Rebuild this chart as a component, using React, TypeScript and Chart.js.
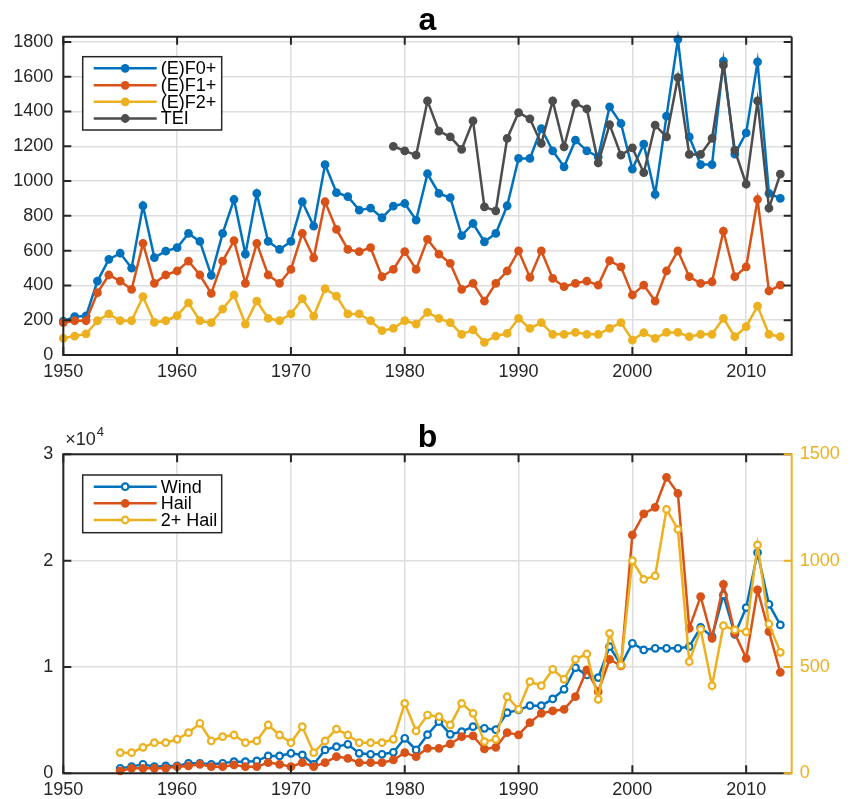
import React, { useEffect, useRef } from 'react';
import { Chart, registerables } from 'chart.js';

Chart.register(...registerables);

const FONT = '"Liberation Sans", Arial, Helvetica, sans-serif';
const BLUE = '#0072BD';
const ORANGE = '#D95319';
const YELLOW = '#EDB120';
const GRAY = '#4D4D4D';
const AXIS = '#262626';
const GRID = '#dedede';

// ---------- Panel a data ----------
const titleA = 'a';
const titleB = 'b';
const years = [
  1950, 1951, 1952, 1953, 1954, 1955, 1956, 1957, 1958, 1959,
  1960, 1961, 1962, 1963, 1964, 1965, 1966, 1967, 1968, 1969,
  1970, 1971, 1972, 1973, 1974, 1975, 1976, 1977, 1978, 1979,
  1980, 1981, 1982, 1983, 1984, 1985, 1986, 1987, 1988, 1989,
  1990, 1991, 1992, 1993, 1994, 1995, 1996, 1997, 1998, 1999,
  2000, 2001, 2002, 2003, 2004, 2005, 2006, 2007, 2008, 2009,
  2010, 2011, 2012, 2013,
];
const f0 = [
  195, 220, 225, 425, 550, 585, 500, 858, 560, 597,
  617, 699, 653, 458, 699, 894, 580, 929, 653, 607,
  653, 881, 741, 1095, 934, 911, 833, 845, 789, 856,
  871, 776, 1042, 929, 904, 686, 756, 651, 699, 858,
  1130, 1130, 1302, 1174, 1082, 1235, 1174, 1139, 1427, 1331,
  1069, 1212, 923, 1373, 1814, 1254, 1095, 1095, 1689, 1155,
  1277, 1685, 929, 900,
];
const f1 = [
  186, 197, 197, 358, 460, 425, 377, 642, 412, 460,
  483, 540, 460, 354, 540, 657, 412, 642, 460, 412,
  492, 699, 559, 881, 722, 607, 594, 617, 450, 492,
  594, 492, 665, 580, 527, 377, 412, 310, 412, 483,
  599, 446, 599, 440, 393, 412, 425, 402, 542, 507,
  345, 402, 310, 483, 599, 450, 412, 421, 712, 450,
  507, 894, 368, 402,
];
const f2 = [
  96, 109, 121, 197, 236, 197, 197, 335, 188, 197,
  226, 300, 197, 186, 264, 345, 178, 310, 211, 197,
  236, 324, 224, 381, 339, 236, 236, 197, 140, 153,
  197, 178, 245, 211, 186, 119, 144, 73, 109, 124,
  211, 153, 186, 119, 119, 130, 119, 119, 153, 186,
  86, 128, 96, 130, 130, 105, 119, 119, 211, 105,
  163, 281, 119, 105,
];
const teiYears = [
  1979, 1980, 1981, 1982, 1983, 1984, 1985, 1986, 1987, 1988, 1989,
  1990, 1991, 1992, 1993, 1994, 1995, 1996, 1997, 1998, 1999,
  2000, 2001, 2002, 2003, 2004, 2005, 2006, 2007, 2008, 2009,
  2010, 2011, 2012, 2013,
];
const tei = [
  1200, 1174, 1149, 1461, 1287, 1254, 1182, 1346, 852, 829, 1245,
  1394, 1358, 1216, 1461, 1197, 1446, 1415, 1105, 1325, 1149,
  1191, 1048, 1321, 1254, 1595, 1153, 1153, 1245, 1666, 1178,
  982, 1461, 845, 1040,
];

// ---------- Panel b data ----------
const yearsB = [
  1955, 1956, 1957, 1958, 1959,
  1960, 1961, 1962, 1963, 1964, 1965, 1966, 1967, 1968, 1969,
  1970, 1971, 1972, 1973, 1974, 1975, 1976, 1977, 1978, 1979,
  1980, 1981, 1982, 1983, 1984, 1985, 1986, 1987, 1988, 1989,
  1990, 1991, 1992, 1993, 1994, 1995, 1996, 1997, 1998, 1999,
  2000, 2001, 2002, 2003, 2004, 2005, 2006, 2007, 2008, 2009,
  2010, 2011, 2012, 2013,
];
const wind = [
  470, 627, 846, 627, 690,
  690, 940, 940, 846, 940, 1097, 1097, 1160, 1630, 1630,
  1881, 1724, 846, 2195, 2508, 2727, 1881, 1787, 1787, 1975,
  3292, 2195, 3630, 4859, 3668, 3919, 4389, 4232, 4100, 5706,
  5957, 6364, 6364, 6991, 7900, 9938, 9248, 8998, 11913, 10189,
  12227, 11600, 11756, 11756, 11756, 11913, 13731, 12854, 16772, 13073,
  15581, 20754, 15895, 13951,
];
const hail = [
  219, 470, 470, 470, 470,
  627, 690, 846, 627, 627, 784, 627, 627, 1003, 846,
  627, 1003, 627, 1003, 1568, 1411, 1003, 1003, 1003, 1254,
  1944, 1568, 2351, 2351, 2759, 3449, 3511, 2289, 2445, 3825,
  3605, 4765, 5643, 5862, 6019, 7210, 9718, 7680, 10722, 10095,
  22415, 24390, 25017, 27839, 26334, 13637, 16615, 12697, 17775, 13167,
  10816, 17242, 13324, 9499,
];
const hail2 = [
  97, 97, 122, 144, 144,
  160, 191, 235, 152, 172, 180, 144, 152, 227, 180,
  144, 219, 97, 152, 208, 180, 144, 144, 144, 160,
  329, 199, 274, 266, 227, 329, 282, 149, 160, 360,
  301, 431, 412, 489, 442, 536, 561, 348, 658, 509,
  1000, 912, 928, 1241, 1147, 525, 677, 412, 694, 674,
  665, 1074, 702, 569,
];

const xTicks = [1950, 1960, 1970, 1980, 1990, 2000, 2010];
const yTicksA = [0, 200, 400, 600, 800, 1000, 1200, 1400, 1600, 1800];
const yTicksB = [0, 10000, 20000, 30000];
const yTicksB2 = [0, 500, 1000, 1500];

const pts = (xs: number[], ys: number[]) => xs.map((x, i) => ({ x, y: ys[i] }));
const setTicks = (vals: number[]) => (s: any) => { s.ticks = vals.map((value) => ({ value })); };

function lineDs(label: string, xs: number[], ys: number[], color: string, open: boolean, order: number, yAxisID = 'y') {
  return {
    label,
    data: pts(xs, ys),
    borderColor: color,
    backgroundColor: color,
    pointBackgroundColor: open ? '#ffffff' : color,
    pointBorderColor: color,
    pointRadius: 3.3,
    pointBorderWidth: 2.2,
    pointHoverRadius: 3.3,
    borderWidth: 2.5,
    borderJoinStyle: 'miter' as const,
    tension: 0,
    clip: false as const,
    order,
    yAxisID,
  };
}

function makePlugin(cfg: {
  title: string;
  leftTicks: number[];
  rightTicks?: number[];
  legend: { x: number; y: number; w: number; h: number; rowY: number[] };
  exponent?: boolean;
}) {
  return {
    id: 'decor',
    afterDatasetsDraw(chart: any) {
      const { ctx, chartArea: a, scales } = chart;
      const L = a.left, R = a.right, T = a.top, B = a.bottom;
      ctx.save();
      ctx.lineCap = 'butt';
      // inward ticks
      ctx.strokeStyle = AXIS;
      ctx.lineWidth = 2;
      ctx.beginPath();
      for (const v of xTicks) {
        const px = scales.x.getPixelForValue(v);
        ctx.moveTo(px, B); ctx.lineTo(px, B - 8);
        ctx.moveTo(px, T); ctx.lineTo(px, T + 8);
      }
      for (const v of cfg.leftTicks) {
        const py = scales.y.getPixelForValue(v);
        ctx.moveTo(L, py); ctx.lineTo(L + 8, py);
        if (!cfg.rightTicks) { ctx.moveTo(R, py); ctx.lineTo(R - 8, py); }
      }
      ctx.stroke();
      // frame
      ctx.beginPath();
      ctx.moveTo(R, T); ctx.lineTo(L, T); ctx.lineTo(L, B); ctx.lineTo(R, B);
      if (!cfg.rightTicks) ctx.lineTo(R, T);
      ctx.stroke();
      if (cfg.rightTicks) {
        ctx.strokeStyle = YELLOW;
        ctx.beginPath();
        ctx.moveTo(R, T - 1); ctx.lineTo(R, B + 1);
        for (const v of cfg.rightTicks) {
          const py = scales.y1.getPixelForValue(v);
          ctx.moveTo(R, py); ctx.lineTo(R - 8, py);
        }
        ctx.stroke();
      }
      // title
      ctx.fillStyle = '#000';
      ctx.font = `bold 32px ${FONT}`;
      ctx.textAlign = 'center';
      ctx.textBaseline = 'alphabetic';
      ctx.fillText(cfg.title, (L + R) / 2, T - 7);
      // exponent label
      if (cfg.exponent) {
        ctx.fillStyle = AXIS;
        ctx.textAlign = 'left';
        ctx.font = `18px ${FONT}`;
        ctx.fillText('\u00d710', L + 2, T - 9);
        const w = ctx.measureText('\u00d710').width;
        ctx.font = `13px ${FONT}`;
        ctx.fillText('4', L + 2 + w + 1, T - 18);
      }
      // legend
      const lg = cfg.legend;
      ctx.fillStyle = '#ffffff';
      ctx.fillRect(lg.x, lg.y, lg.w, lg.h);
      ctx.strokeStyle = AXIS;
      ctx.lineWidth = 1.5;
      ctx.strokeRect(lg.x, lg.y, lg.w, lg.h);
      chart.data.datasets.forEach((ds: any, i: number) => {
        const y = lg.rowY[i];
        ctx.strokeStyle = ds.borderColor;
        ctx.lineWidth = 2.5;
        ctx.beginPath();
        ctx.moveTo(lg.x + 11, y); ctx.lineTo(lg.x + 74, y);
        ctx.stroke();
        ctx.beginPath();
        ctx.arc(lg.x + 42.5, y, 3.3, 0, Math.PI * 2);
        ctx.fillStyle = ds.pointBackgroundColor;
        ctx.fill();
        ctx.lineWidth = 2.2;
        ctx.stroke();
        ctx.fillStyle = '#000';
        ctx.font = `18px ${FONT}`;
        ctx.textAlign = 'left';
        ctx.textBaseline = 'middle';
        ctx.fillText(ds.label, lg.x + 78, y + 1);
      });
      ctx.restore();
    },
  };
}

const tickFont = { family: FONT, size: 18 };

const xScale = {
  type: 'linear' as const,
  min: 1950,
  max: 2014,
  afterBuildTicks: setTicks(xTicks),
  ticks: {
    color: AXIS,
    font: tickFont,
    padding: 6,
    maxRotation: 0,
    autoSkip: false,
    callback: (v: any) => String(v),
  },
  grid: { color: GRID, lineWidth: 1.5, drawTicks: false },
  border: { display: false },
};

export default function App() {
  const refA = useRef<HTMLCanvasElement>(null);
  const refB = useRef<HTMLCanvasElement>(null);

  useEffect(() => {
    const chartA = new Chart(refA.current as HTMLCanvasElement, {
      type: 'line',
      data: {
        datasets: [
          lineDs('(E)F0+', years, f0, BLUE, false, 3),
          lineDs('(E)F1+', years, f1, ORANGE, false, 2),
          lineDs('(E)F2+', years, f2, YELLOW, false, 1),
          lineDs('TEI', teiYears, tei, GRAY, false, 0),
        ] as any,
      },
      options: {
        responsive: false,
        animation: false,
        layout: { padding: { left: 0, right: 64.3, top: 36.7, bottom: 0 } },
        plugins: { legend: { display: false }, tooltip: { enabled: false } },
        scales: {
          x: { ...xScale, afterFit: (s: any) => { s.height = 45; } },
          y: {
            type: 'linear',
            min: 0,
            max: 1830,
            afterFit: (s: any) => { s.width = 63.3; },
            afterBuildTicks: setTicks(yTicksA),
            ticks: {
              color: AXIS,
              font: tickFont,
              padding: 10,
              autoSkip: false,
              callback: (v: any) => String(v),
            },
            grid: { color: GRID, lineWidth: 1.5, drawTicks: false },
            border: { display: false },
          },
        },
      } as any,
      plugins: [
        makePlugin({
          title: titleA,
          leftTicks: yTicksA,
          legend: { x: 82.7, y: 56.7, w: 139, h: 73.3, rowY: [68.3, 85.3, 101.8, 118.5] },
        }),
      ],
    });

    const chartB = new Chart(refB.current as HTMLCanvasElement, {
      type: 'line',
      data: {
        datasets: [
          lineDs('Wind', yearsB, wind, BLUE, true, 2),
          lineDs('Hail', yearsB, hail, ORANGE, false, 1),
          lineDs('2+ Hail', yearsB, hail2, YELLOW, true, 0, 'y1'),
        ] as any,
      },
      options: {
        responsive: false,
        animation: false,
        layout: { padding: { left: 0, right: 0, top: 54.3, bottom: 0 } },
        plugins: { legend: { display: false }, tooltip: { enabled: false } },
        scales: {
          x: { ...xScale, afterFit: (s: any) => { s.height = 25.7; } },
          y: {
            type: 'linear',
            position: 'left',
            min: 0,
            max: 30000,
            afterFit: (s: any) => { s.width = 63.3; },
            afterBuildTicks: setTicks(yTicksB),
            ticks: {
              color: AXIS,
              font: tickFont,
              padding: 10,
              autoSkip: false,
              callback: (v: any) => String(v / 10000),
            },
            grid: { color: GRID, lineWidth: 1.5, drawTicks: false },
            border: { display: false },
          },
          y1: {
            type: 'linear',
            position: 'right',
            min: 0,
            max: 1500,
            afterFit: (s: any) => { s.width = 64.3; },
            afterBuildTicks: setTicks(yTicksB2),
            ticks: {
              color: YELLOW,
              font: tickFont,
              padding: 8,
              autoSkip: false,
              callback: (v: any) => String(v),
            },
            grid: { drawOnChartArea: false, drawTicks: false },
            border: { display: false },
          },
        },
      } as any,
      plugins: [
        makePlugin({
          title: titleB,
          leftTicks: yTicksB,
          rightTicks: yTicksB2,
          exponent: true,
          legend: { x: 82.7, y: 75, w: 139, h: 57.7, rowY: [86.7, 103.3, 120] },
        }),
      ],
    });

    return () => {
      chartA.destroy();
      chartB.destroy();
    };
  }, []);

  return (
    <div style={{ position: 'absolute', left: 0, top: 0, width: 856, height: 799, background: '#fff' }}>
      <canvas ref={refA} width={856} height={400} style={{ position: 'absolute', left: 0, top: 0, width: 856, height: 400 }} />
      <canvas ref={refB} width={856} height={399} style={{ position: 'absolute', left: 0, top: 400, width: 856, height: 399 }} />
    </div>
  );
}
